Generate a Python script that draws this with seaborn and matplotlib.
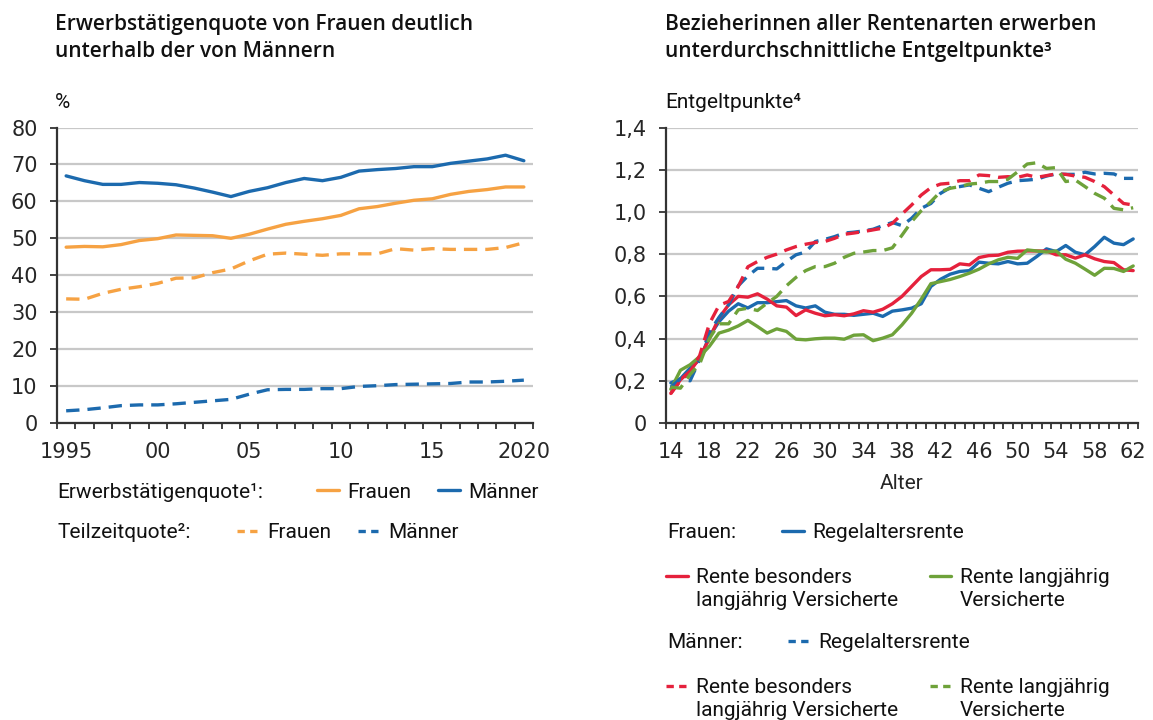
import numpy as np
import pandas as pd
import seaborn as sns
import matplotlib.pyplot as plt
from matplotlib.lines import Line2D
from matplotlib.ticker import FixedLocator, FuncFormatter

# left panel: Erwerbstätigen- und Teilzeitquote (%)
years = list(range(1995, 2021))
erw_frauen = [47.6, 47.8, 47.7, 48.3, 49.4, 49.9, 50.9, 50.8, 50.7, 50.0, 51.1, 52.5, 53.8,
              54.6, 55.3, 56.2, 58.0, 58.6, 59.5, 60.3, 60.7, 61.9, 62.7, 63.2, 63.9, 63.9]
erw_maenner = [66.9, 65.6, 64.6, 64.6, 65.1, 64.9, 64.5, 63.6, 62.5, 61.3, 62.7, 63.7, 65.1,
               66.2, 65.6, 66.5, 68.2, 68.6, 68.9, 69.4, 69.4, 70.3, 70.9, 71.5, 72.5, 71.0]
tz_frauen = [33.6, 33.5, 35.1, 36.2, 36.9, 37.8, 39.2, 39.3, 40.7, 41.7, 43.9, 45.7, 46.0,
             45.7, 45.4, 45.8, 45.8, 45.8, 47.2, 46.8, 47.2, 47.0, 47.0, 47.0, 47.5, 48.8]
tz_maenner = [3.3, 3.6, 4.1, 4.7, 4.9, 4.9, 5.2, 5.6, 6.0, 6.4, 7.8, 9.0, 9.1,
              9.1, 9.3, 9.3, 9.9, 10.1, 10.4, 10.5, 10.6, 10.7, 11.1, 11.1, 11.3, 11.6]

# right panel: Entgeltpunkte nach Alter
ages = list(range(14, 63))
f_regel = [0.19, 0.21, 0.26, 0.30, 0.41, 0.48, 0.53, 0.565, 0.545, 0.57, 0.57, 0.575, 0.58,
           0.555, 0.545, 0.555, 0.525, 0.515, 0.515, 0.51, 0.515, 0.52, 0.505, 0.53, 0.536,
           0.544, 0.565, 0.647, 0.681, 0.705, 0.718, 0.722, 0.762, 0.757, 0.754, 0.765, 0.754,
           0.757, 0.789, 0.825, 0.812, 0.841, 0.809, 0.797, 0.836, 0.88, 0.852, 0.845, 0.872]
f_besonders = [0.14, 0.205, 0.245, 0.31, 0.40, 0.497, 0.56, 0.60, 0.596, 0.612, 0.587, 0.555,
               0.549, 0.509, 0.536, 0.52, 0.508, 0.513, 0.508, 0.517, 0.532, 0.525, 0.539, 0.565,
               0.60, 0.647, 0.694, 0.726, 0.726, 0.728, 0.754, 0.749, 0.784, 0.793, 0.795, 0.809,
               0.814, 0.815, 0.815, 0.815, 0.797, 0.797, 0.781, 0.797, 0.778, 0.765, 0.76, 0.726, 0.722]
f_langj = [0.16, 0.25, 0.276, 0.315, 0.363, 0.426, 0.44, 0.46, 0.486, 0.457, 0.426, 0.446, 0.434,
           0.397, 0.394, 0.399, 0.402, 0.402, 0.397, 0.416, 0.418, 0.39, 0.402, 0.418, 0.465,
           0.52, 0.587, 0.66, 0.67, 0.68, 0.694, 0.71, 0.729, 0.754, 0.773, 0.785, 0.78, 0.82,
           0.815, 0.81, 0.815, 0.776, 0.757, 0.729, 0.70, 0.733, 0.732, 0.718, 0.744]
m_regel = [0.17, 0.21, 0.20, 0.30, 0.43, 0.50, 0.56, 0.65, 0.697, 0.733, 0.733, 0.73, 0.765,
           0.797, 0.81, 0.86, 0.87, 0.883, 0.90, 0.904, 0.91, 0.918, 0.935, 0.95, 0.935, 0.97,
           1.017, 1.04, 1.088, 1.115, 1.12, 1.128, 1.112, 1.096, 1.117, 1.136, 1.148, 1.151,
           1.155, 1.17, 1.18, 1.178, 1.178, 1.188, 1.18, 1.183, 1.18, 1.159, 1.159]
m_besonders = [0.14, 0.20, 0.24, 0.32, 0.47, 0.557, 0.576, 0.647, 0.74, 0.765, 0.785, 0.80, 0.82,
               0.836, 0.847, 0.855, 0.86, 0.875, 0.894, 0.90, 0.907, 0.915, 0.923, 0.946, 0.99,
               1.033, 1.08, 1.115, 1.132, 1.136, 1.148, 1.148, 1.175, 1.172, 1.164, 1.167, 1.164,
               1.175, 1.164, 1.172, 1.18, 1.178, 1.17, 1.164, 1.144, 1.12, 1.08, 1.04, 1.033]
m_langj = [0.17, 0.165, 0.23, 0.28, 0.40, 0.47, 0.47, 0.536, 0.544, 0.533, 0.568, 0.60, 0.65,
           0.69, 0.722, 0.741, 0.741, 0.757, 0.785, 0.804, 0.81, 0.817, 0.817, 0.83, 0.89, 0.954,
           1.006, 1.049, 1.096, 1.112, 1.12, 1.132, 1.136, 1.144, 1.144, 1.155, 1.19, 1.227,
           1.233, 1.206, 1.21, 1.144, 1.151, 1.12, 1.088, 1.065, 1.017, 1.01, 1.02]

ORANGE = "#F6A243"
BLUE = "#1C6AAE"
RED = "#E5213C"
GREEN = "#6EA23A"
GRID = "#C8C8C8"
AXIS = "#333333"
FS = 15
TICK_FS = 15
LW = 2.4
DASH = (0, (4, 2.4))
TICK_FONT = "DejaVu Sans"
TITLE_FONT = ["Open Sans", "DejaVu Sans"]

sns.set_theme(style="white")
plt.rcParams['font.family'] = ['Roboto', 'DejaVu Sans']
plt.rcParams['text.color'] = '#111111'

W, H = 1153, 720
fig = plt.figure(figsize=(W / 100, H / 100), dpi=100)


def fx(px):
    return px / W


def fy(py):
    return 1 - py / H


ax1 = fig.add_axes([fx(57), fy(423), (533 - 57) / W, (423 - 127.5) / H])
ax2 = fig.add_axes([fx(666), fy(423), (1138 - 666) / W, (423 - 127.5) / H])

df_left = pd.DataFrame({"Jahr": years, "erw_f": erw_frauen, "erw_m": erw_maenner,
                        "tz_f": tz_frauen, "tz_m": tz_maenner})
df_right = pd.DataFrame({"Alter": ages, "f_regel": f_regel, "f_bes": f_besonders,
                         "f_lang": f_langj, "m_regel": m_regel, "m_bes": m_besonders,
                         "m_lang": m_langj})

# left lines
handles = {}
for col, color, ls in [("tz_m", BLUE, DASH), ("tz_f", ORANGE, DASH),
                       ("erw_f", ORANGE, "-"), ("erw_m", BLUE, "-")]:
    sns.lineplot(data=df_left, x="Jahr", y=col, ax=ax1, color=color, linewidth=LW,
                 linestyle=ls, legend=False)
    handles[col] = ax1.lines[-1]

# right lines
for col, color, ls in [("f_regel", BLUE, "-"), ("f_bes", RED, "-"), ("f_lang", GREEN, "-"),
                       ("m_regel", BLUE, DASH), ("m_bes", RED, DASH), ("m_lang", GREEN, DASH)]:
    sns.lineplot(data=df_right, x="Alter", y=col, ax=ax2, color=color, linewidth=LW,
                 linestyle=ls, legend=False)
    handles[col] = ax2.lines[-1]

for ax in (ax1, ax2):
    ax.set_xlabel("")
    ax.set_ylabel("")
    ax.grid(axis="y", color=GRID, linewidth=1.6)
    ax.grid(axis="x", visible=False)
    ax.set_axisbelow(True)
    for s in ("top", "right"):
        ax.spines[s].set_visible(False)
    for s in ("left", "bottom"):
        ax.spines[s].set_color(AXIS)
        ax.spines[s].set_linewidth(1.6)
    ax.tick_params(axis="x", which="major", bottom=True, length=0, pad=13.5, labelsize=TICK_FS,
                   labelfontfamily=TICK_FONT)
    ax.tick_params(axis="x", which="minor", bottom=True, length=4.5, width=1.3, color=AXIS,
                   direction="out")
    ax.tick_params(axis="y", left=True, length=5, width=1.3, color=AXIS, direction="out",
                   labelsize=TICK_FS, pad=9, labelfontfamily=TICK_FONT)

ax1.set_xlim(1994.5, 2020.5)
ax1.set_ylim(0, 80)
ax1.set_yticks(range(0, 81, 10))
ax1.set_xticks([1995, 2000, 2005, 2010, 2015, 2020])
ax1.set_xticklabels(["1995", "00", "05", "10", "15", "2020"])
ax1.xaxis.set_minor_locator(FixedLocator(np.arange(1994.5, 2021, 1)))
ax1.text(-0.004, 1.086, "%", transform=ax1.transAxes, va="center", ha="left", fontsize=FS)

ax2.set_xlim(13.5, 62.5)
ax2.set_ylim(0, 1.4)
ax2.set_yticks(np.arange(0, 1.41, 0.2))
ax2.yaxis.set_major_formatter(FuncFormatter(
    lambda v, p: "0" if abs(v) < 1e-9 else f"{v:.1f}".replace(".", ",")))
ax2.set_xticks(range(14, 63, 4))
ax2.xaxis.set_minor_locator(FixedLocator(np.arange(13.5, 63, 1)))
ax2.set_xlabel("Alter", fontsize=FS, labelpad=9)
ax2.text(-0.002, 1.086, "Entgeltpunkte⁴", transform=ax2.transAxes, va="center", ha="left",
         fontsize=FS)

# titles, one text per line
title_kw = dict(va="baseline", ha="left", fontsize=15, fontweight="semibold", family=TITLE_FONT)
fig.text(fx(55), fy(30), "Erwerbstätigenquote von Frauen deutlich", **title_kw)
fig.text(fx(55), fy(57), "unterhalb der von Männern", **title_kw)
fig.text(fx(665), fy(30), "Bezieherinnen aller Rentenarten erwerben", **title_kw)
fig.text(fx(665), fy(57), "unterdurchschnittliche Entgeltpunkte³", **title_kw)

leg_kw = dict(loc="center left", bbox_transform=fig.transFigure, frameon=False, borderpad=0,
              borderaxespad=0, handlelength=1.05, handletextpad=0.4, columnspacing=1.0,
              fontsize=FS)
blank = Line2D([], [], color="none")


def add_legend(hs, labels, x, y, ncol=1, **kw):
    opts = dict(leg_kw)
    opts.update(kw)
    leg = fig.legend(hs, labels, bbox_to_anchor=(fx(x), fy(y)), ncol=ncol, **opts)
    for ln in leg.get_lines():
        if ln.get_linestyle() not in ("-", "None"):
            ln.set_dashes((2.2, 1.6))
    return leg


# left legend
fig.text(fx(57), fy(492), "Erwerbstätigenquote¹:", va="center", ha="left", fontsize=FS)
add_legend([handles["erw_f"], handles["erw_m"]], ["Frauen", "Männer"], 317, 492, ncol=2,
           columnspacing=1.3)
fig.text(fx(57), fy(533), "Teilzeitquote²:", va="center", ha="left", fontsize=FS)
add_legend([handles["tz_f"], handles["tz_m"]], ["Frauen", "Männer"], 237, 533, ncol=2,
           columnspacing=1.3)

# right legend
fig.text(fx(667), fy(533), "Frauen:", va="center", ha="left", fontsize=FS)
add_legend([handles["f_regel"]], ["Regelaltersrente"], 782, 533)
add_legend([handles["f_bes"], blank, handles["f_lang"], blank],
           ["Rente besonders", "langjährig Versicherte", "Rente langjährig", "Versicherte"],
           666, 589, ncol=2, labelspacing=0.2, columnspacing=1.5)
fig.text(fx(667), fy(643), "Männer:", va="center", ha="left", fontsize=FS)
add_legend([handles["m_regel"]], ["Regelaltersrente"], 788, 643)
add_legend([handles["m_bes"], blank, handles["m_lang"], blank],
           ["Rente besonders", "langjährig Versicherte", "Rente langjährig", "Versicherte"],
           666, 699, ncol=2, labelspacing=0.2, columnspacing=1.5)

fig.savefig("out.png", dpi=100)
